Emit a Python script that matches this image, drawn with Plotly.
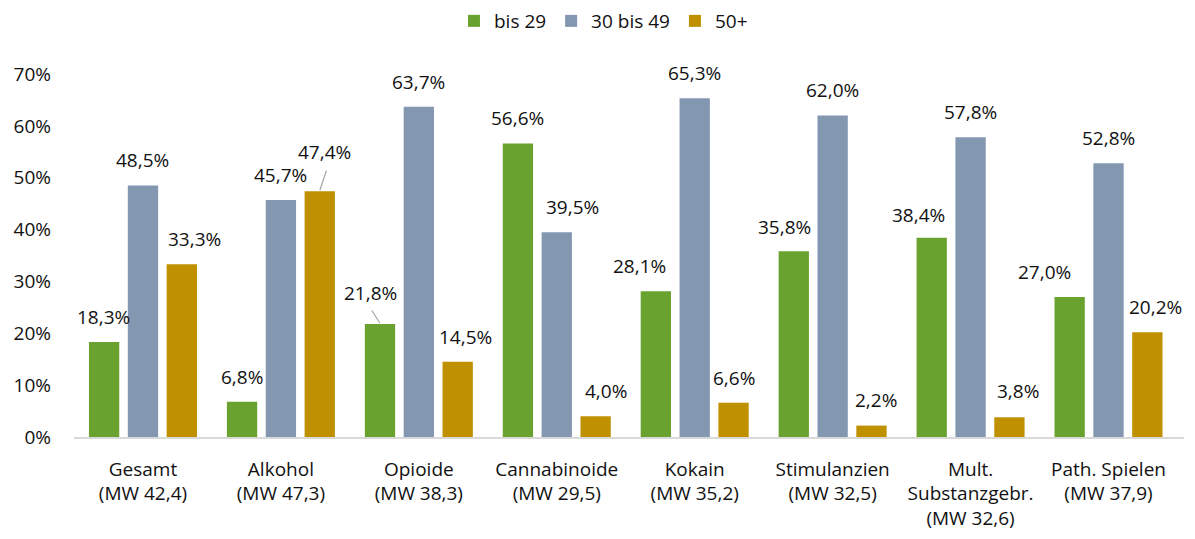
import plotly.graph_objects as go

# Kategorien (Achsenbeschriftung, mehrzeilig)
categories = [
    "Gesamt<br>(MW 42,4)",
    "Alkohol<br>(MW 47,3)",
    "Opioide<br>(MW 38,3)",
    "Cannabinoide<br>(MW 29,5)",
    "Kokain<br>(MW 35,2)",
    "Stimulanzien<br>(MW 32,5)",
    "Mult.<br>Substanzgebr.<br>(MW 32,6)",
    "Path. Spielen<br>(MW 37,9)",
]

# Anteile je Altersgruppe in Prozent
bis_29 = [18.3, 6.8, 21.8, 56.6, 28.1, 35.8, 38.4, 27.0]
von_30_bis_49 = [48.5, 45.7, 63.7, 39.5, 65.3, 62.0, 57.8, 52.8]
ab_50 = [33.3, 47.4, 14.5, 4.0, 6.6, 2.2, 3.8, 20.2]

series_names = ["bis 29", "30 bis 49", "50+"]
series_values = [bis_29, von_30_bis_49, ab_50]
series_colors = ["#6aa22f", "#8497b0", "#bf9000"]

FONT = "Open Sans"
FONT_SIZE = 19
TEXT_COLOR = "#111111"

# Abstand Balken -> Beschriftung (px) und seitlicher Versatz einzelner Labels
BAR_SLOT_PX = 39
LABEL_GAP = 25
LABEL_NUDGE = {
    (0, 2): (13, 0),
    (1, 2): (5, 14),
    (2, 0): (-9, 6),
    (2, 2): (8, 0),
    (3, 1): (16, 0),
    (3, 2): (10, 0),
    (4, 0): (-16, 0),
    (5, 0): (-9, -1),
    (5, 2): (4, 1),
    (6, 0): (-13, -2),
    (6, 2): (8, 1),
    (7, 0): (-25, 0),
    (7, 2): (8, 0),
}
# Führungslinien (Startpunkt relativ zur Balkenoberkante, px)
LEADERS = {
    (1, 2): (7, -21),
    (2, 0): (-9, -14),
}


def fmt(v):
    return f"{v:.1f}".replace(".", ",") + "%"


fig = go.Figure()
for name, vals, color in zip(series_names, series_values, series_colors):
    fig.add_trace(go.Bar(
        x=categories, y=vals, name=name,
        marker=dict(color=color, line=dict(width=0)),
        hoverinfo="skip",
    ))

annotations = []
for s, vals in enumerate(series_values):
    offset = (s - 1) * BAR_SLOT_PX
    for c, v in enumerate(vals):
        dx, dy = LABEL_NUDGE.get((c, s), (0, 0))
        annotations.append(dict(
            x=categories[c], y=v, xref="x", yref="y",
            text=fmt(v), showarrow=False,
            xshift=offset + dx, yshift=LABEL_GAP + dy,
            yanchor="middle", xanchor="center",
            font=dict(family=FONT, size=FONT_SIZE, color=TEXT_COLOR),
        ))
        if (c, s) in LEADERS:
            ax, ay = LEADERS[(c, s)]
            annotations.append(dict(
                x=categories[c], y=v, xref="x", yref="y",
                text="", showarrow=True, arrowhead=0,
                arrowwidth=1.2, arrowcolor="#a6a6a6",
                ax=ax, ay=ay, xshift=offset, yshift=1,
                standoff=0, startstandoff=0,
            ))

fig.update_layout(
    width=1195, height=539,
    margin=dict(l=74, r=11, t=74, b=102, autoexpand=False),
    paper_bgcolor="white", plot_bgcolor="white",
    barmode="group", bargap=0.155, bargroupgap=0.22,
    font=dict(family=FONT, size=FONT_SIZE, color=TEXT_COLOR),
    showlegend=True,
    legend=dict(
        orientation="h", x=0.477, xanchor="center",
        yref="container", y=0.961, yanchor="middle",
        font=dict(family=FONT, size=FONT_SIZE, color=TEXT_COLOR),
        itemwidth=30, traceorder="normal",
    ),
    annotations=annotations,
)

fig.update_xaxes(
    automargin=False,
    showline=True, linecolor="#d9d9d9", linewidth=1.5,
    showgrid=False, ticks="", ticklabelstandoff=14,
    tickfont=dict(family=FONT, size=FONT_SIZE, color=TEXT_COLOR),
)
fig.update_yaxes(
    automargin=False,
    range=[0, 70], dtick=10, ticksuffix="%",
    showgrid=False, zeroline=False, showline=False, ticks="",
    ticklabelstandoff=22,
    tickfont=dict(family=FONT, size=FONT_SIZE, color=TEXT_COLOR),
)

fig.write_html("out.html")
